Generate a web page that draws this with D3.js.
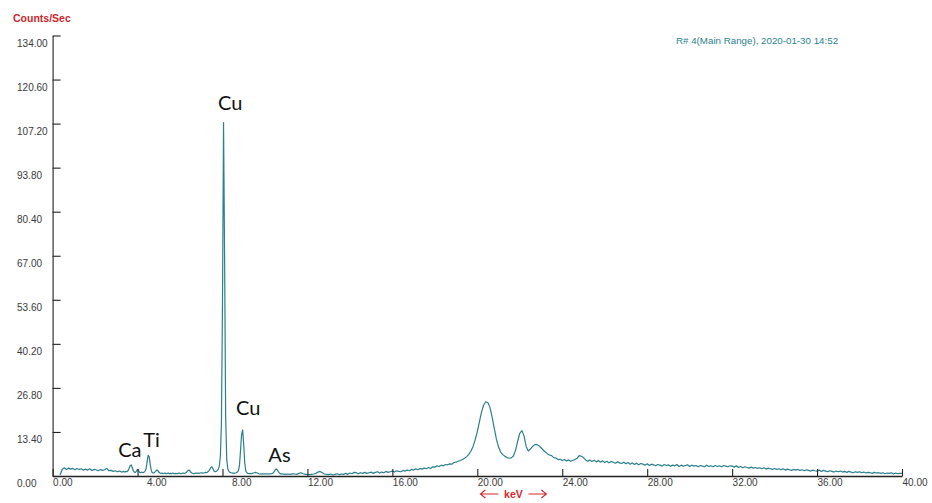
<!DOCTYPE html>
<html><head><meta charset="utf-8">
<script src="https://cdn.jsdelivr.net/npm/d3@7"></script>
<style>
body{margin:0;background:#fff;}
svg{display:block;}
text{font-family:"Liberation Sans",Arial,sans-serif;}
</style>
</head><body>
<svg id="chart" width="932" height="503"></svg>
<script>
// ---- data ----
const yTickValues = [0, 13.4, 26.8, 40.2, 53.6, 67.0, 80.4, 93.8, 107.2, 120.6, 134.0];
const yTickLabels = ["0.00","13.40","26.80","40.20","53.60","67.00","80.40","93.80","107.20","120.60","134.00"];
const xTickValues = [0, 4, 8, 12, 16, 20, 24, 28, 32, 36, 40];
const xTickLabels = ["0.00","4.00","8.00","12.00","16.00","20.00","24.00","28.00","32.00","36.00","40.00"];

// spectrum, counts/sec per channel (three channel ranges)
const lowStart = 0.35, lowStep = 0.1;
const lowCounts = [0.3,2.0,2.5,2.0,2.4,2.1,2.3,1.9,2.3,2.0,2.2,1.8,2.1,1.8,2.2,1.7,2.0,1.9,1.6,2.0,1.7,1.9,2.3,1.6,1.7,1.4,1.6,1.3,1.5,1.2,1.4];

const midStart = 3.40, midStep = 0.05;
const midCounts = [
 1.2,1.4,1.3,1.6,2.3,3.1,3.4,2.6,1.6,1.2,1.1,1.5,
 2.0,1.6,1.1,1.0,1.2,1.0,1.1,1.4,2.2,4.3,6.3,5.9,3.4,1.6,1.0,0.9,1.1,1.4,1.8,1.7,
 1.2,0.9,0.8,0.9,0.7,0.8,0.9,0.7,0.8,0.9,0.7,0.8,0.7,0.9,0.8,0.7,0.8,0.7,0.8,0.9,
 0.8,0.7,0.8,0.9,0.8,0.9,1.1,1.5,1.8,1.7,1.2,0.9,0.8,0.7,0.8,0.9,0.8,0.9,0.8,0.9,
 1.0,0.9,0.9,1.0,1.1,1.0,1.2,1.5,2.0,2.6,2.8,2.2,1.5,1.3,1.4,1.6,2.0,3.0,6.0,16.0,
 52.0,107.5,66.0,18.0,5.0,2.2,1.4,1.1,1.0,0.9,0.9,0.8,0.9,1.0,1.2,1.6,3.2,7.8,12.6,14.0,
 9.5,3.8,1.5,1.0,0.8,0.7,0.8,0.7,0.8,0.9,1.0,1.1,1.0,0.9,0.7,0.6,0.7,0.6,0.7,0.6,
 0.7,0.6,0.7,0.6,0.7,0.6,0.7,0.8,1.0,1.5,2.0,2.1,1.7,1.1,0.8,0.6,0.7,0.6,0.5,0.6,
 0.5];

const highStart = 11.1, highStep = 0.1;
const highCounts = [
 0.6,0.5,0.7,0.6,0.5,0.8,1.0,0.7,0.5,
 0.5,0.4,0.5,0.6,0.8,1.2,1.4,1.0,0.6,0.5,
 0.4,0.6,0.3,0.5,0.7,0.4,0.6,0.5,0.8,0.5,
 0.9,0.7,1.1,1.0,0.7,1.0,0.8,1.1,0.8,1.0,
 1.2,0.8,1.1,1.3,0.9,1.2,1.0,1.4,1.1,1.3,
 1.5,1.2,1.6,1.4,1.3,1.7,1.5,1.8,1.6,2.0,
 1.8,2.2,1.9,2.3,2.1,2.4,2.2,2.6,2.3,2.8,
 2.7,3.1,2.9,3.3,3.1,3.5,3.4,3.7,3.6,4.1,
 4.2,4.5,4.7,5.0,5.4,5.9,6.6,7.6,9.0,11.0,
 13.5,16.5,19.5,21.6,22.6,22.3,20.8,17.8,14.5,11.2,
 8.8,7.3,6.5,6.0,5.6,5.4,5.5,6.1,7.8,10.5,
 13.0,13.8,12.2,9.0,7.6,8.2,9.0,9.5,9.6,9.2,
 8.6,7.9,7.3,6.8,6.4,6.2,5.6,5.5,5.0,5.1,
 4.7,5.0,4.6,4.9,4.5,4.8,5.0,5.4,6.2,6.0,
 5.6,4.9,4.5,4.9,4.4,4.8,4.3,4.7,4.2,4.6,
 4.1,4.5,4.0,4.4,4.2,3.9,4.3,4.0,3.8,4.2,
 3.7,4.1,3.6,4.0,3.5,3.9,3.4,3.8,3.6,3.3,
 3.7,3.2,3.6,3.4,3.1,3.5,3.3,3.0,3.5,3.2,
 3.4,3.0,3.3,3.1,3.5,2.9,3.3,3.0,3.2,3.4,
 2.9,3.3,3.0,3.2,2.8,3.2,3.0,2.8,3.3,2.9,
 3.1,2.8,3.2,2.9,3.1,2.8,3.2,3.0,2.8,3.1,
 3.0,2.7,3.1,2.6,2.9,2.5,2.8,2.6,2.4,2.7,
 2.4,2.6,2.3,2.5,2.2,2.5,2.1,2.4,2.2,2.0,
 2.3,2.0,2.2,1.9,2.2,1.8,2.1,1.9,1.7,2.0,
 1.8,2.0,1.7,1.9,1.6,1.9,1.7,1.5,1.8,1.6,
 1.5,1.8,1.4,1.7,1.5,1.3,1.6,1.4,1.2,1.5,
 1.3,1.5,1.2,1.4,1.1,1.4,1.2,1.0,1.3,1.1,
 1.3,1.0,1.2,0.9,1.1,1.0,0.8,1.1,0.9,1.0,
 0.8,1.0,0.7,0.9,0.8,1.0,0.6,0.9,0.7,0.8,
 0.8];

const peakLabels = ["Cu","Cu","Ca","Ti","As"];
const peakLabelKeV = [7.79, 8.64, 3.09, 4.27, 10.16];
const peakLabelCounts = [111.2, 18.6, 5.7, 8.9, 4.35];

const yTitle = "Counts/Sec";
const xTitle = "keV";
const headerText = "R# 4(Main Range), 2020-01-30 14:52";

// ---- build ----
function segment(start, step, counts){
  return counts.map((c,i)=>({e: +(start + i*step).toFixed(3), c}));
}
const spectrum = [].concat(
  segment(lowStart, lowStep, lowCounts),
  segment(midStart, midStep, midCounts),
  segment(highStart, highStep, highCounts));

const svg = d3.select("#chart");
svg.append("rect").attr("width",932).attr("height",503).attr("fill","#fff");

const x = d3.scaleLinear().domain([0,40]).range([52.6, 902]);
const y = d3.scaleLinear().domain([0,134]).range([476, 35.5]);

// spectrum line
svg.append("path")
  .datum(spectrum)
  .attr("fill","none")
  .attr("stroke","#2c7f8d")
  .attr("stroke-width",1.2)
  .attr("stroke-linejoin","round")
  .attr("d", d3.line().x(d=>x(d.e)).y(d=>y(d.c)));

// y axis
const gy = svg.append("g").attr("transform",`translate(${x(0)},0)`)
  .call(d3.axisLeft(y).tickValues(yTickValues)
        .tickFormat((d,i)=>yTickLabels[i]).tickSizeInner(-8).tickSizeOuter(0).tickPadding(0));
gy.select(".domain").attr("stroke","#222").attr("stroke-width",1.1);
gy.selectAll(".tick line").attr("stroke","#222").attr("stroke-width",1.1);
gy.selectAll(".tick text")
  .attr("text-anchor","start")
  .attr("x", 17 - x(0))
  .attr("y", 7)
  .attr("dy","0.35em")
  .attr("fill","#3a3a3a")
  .style("font-size","10px")
  .style("font-family","'Liberation Sans',Arial,sans-serif");

// x axis
const gx = svg.append("g").attr("transform",`translate(0,${y(0)})`)
  .call(d3.axisBottom(x).tickValues(xTickValues)
        .tickFormat((d,i)=>xTickLabels[i]).tickSizeInner(-7).tickSizeOuter(0).tickPadding(3));
gx.select(".domain").attr("stroke","#222").attr("stroke-width",1.4);
gx.selectAll(".tick line").attr("stroke","#222").attr("stroke-width",1.1);
gx.selectAll(".tick text")
  .attr("text-anchor","start")
  .attr("dx",(d,i)=> (i>0 && xTickLabels[i].length<5) ? 9 : 0)
  .attr("fill","#3a3a3a")
  .style("font-size","10px")
  .style("font-family","'Liberation Sans',Arial,sans-serif");

// y title
svg.append("text").text(yTitle)
  .attr("x",13).attr("y",22)
  .attr("fill","#c8282e")
  .style("font-weight","bold").style("font-size","10.5px");

// header
svg.append("text").text(headerText)
  .attr("x",676).attr("y",44)
  .attr("fill","#2e7f90")
  .style("font-size","9.75px");

// x title with arrows
const kx = x(21.7), ky = 494;
svg.append("text").text(xTitle)
  .attr("x",kx).attr("y",ky).attr("dy","0.35em")
  .attr("text-anchor","middle")
  .attr("fill","#d4282e")
  .style("font-weight","bold").style("font-size","10.5px");
const arrowG = svg.append("g").attr("stroke","#d4282e").attr("stroke-width",1.1).attr("fill","none");
arrowG.append("path").attr("d",`M${kx-33},${ky} H${kx-15} M${kx-28},${ky-4} L${kx-33},${ky} L${kx-28},${ky+4}`);
arrowG.append("path").attr("d",`M${kx+15},${ky} H${kx+33} M${kx+28},${ky-4} L${kx+33},${ky} L${kx+28},${ky+4}`);

// peak labels
svg.append("g").selectAll("text")
  .data(peakLabels)
  .join("text")
  .text(d=>d)
  .attr("x",(d,i)=>x(peakLabelKeV[i]))
  .attr("y",(d,i)=>y(peakLabelCounts[i]))
  .attr("fill","#111")
  .style("font-family","Lato,'Open Sans',sans-serif")
  .style("font-size","20px");
</script>
</body></html>
